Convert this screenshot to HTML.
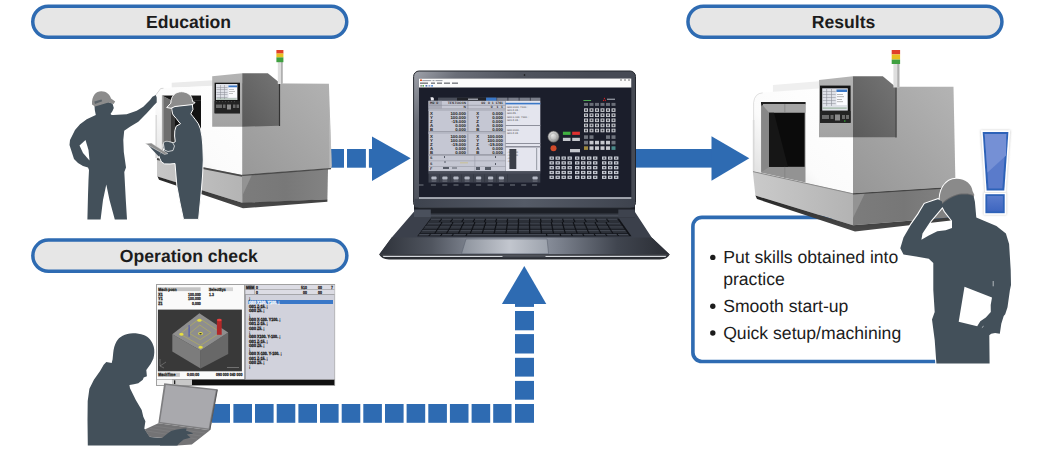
<!DOCTYPE html>
<html><head><meta charset="utf-8">
<style>
html,body{margin:0;padding:0;background:#fff;width:1050px;height:450px;overflow:hidden;}
svg{position:absolute;left:0;top:0;display:block;}
text{font-family:"Liberation Sans",sans-serif;white-space:pre;text-rendering:geometricPrecision;}
</style></head>
<body>
<svg width="1050" height="450" viewBox="0 0 1050 450">
<defs>
<linearGradient id="shad2" x1="0" y1="0" x2="0" y2="1"><stop offset="0" stop-color="#262626"/><stop offset="1" stop-color="#4a4a4a"/></linearGradient>
<linearGradient id="kbtop" x1="0" y1="0" x2="0" y2="1"><stop offset="0" stop-color="#1c1f26"/><stop offset="0.6" stop-color="#4a505b"/><stop offset="1" stop-color="#262a31"/></linearGradient>
<linearGradient id="lidg" gradientUnits="userSpaceOnUse" x1="414" y1="71" x2="520" y2="160"><stop offset="0" stop-color="#a0a3ab"/><stop offset="0.25" stop-color="#6a6e78"/><stop offset="0.6" stop-color="#50545e"/><stop offset="1" stop-color="#464a54"/></linearGradient>

<linearGradient id="m2front" x1="1" y1="0" x2="0" y2="1"><stop offset="0" stop-color="#ffffff"/><stop offset="0.6" stop-color="#fbfbfb"/><stop offset="1" stop-color="#d8d8d8"/></linearGradient>
<linearGradient id="m2side" x1="1" y1="0" x2="0" y2="1"><stop offset="0" stop-color="#b4b4b4"/><stop offset="1" stop-color="#969696"/></linearGradient>
<linearGradient id="m2basef" x1="0" y1="0" x2="1" y2="0"><stop offset="0" stop-color="#cacaca"/><stop offset="1" stop-color="#b3b3b3"/></linearGradient>
<linearGradient id="m2bases" x1="0" y1="0" x2="1" y2="0"><stop offset="0" stop-color="#7c7c7c"/><stop offset="0.5" stop-color="#777777"/><stop offset="1" stop-color="#838383"/></linearGradient>
<linearGradient id="excl" x1="0" y1="0" x2="1" y2="1"><stop offset="0" stop-color="#6d8fd6"/><stop offset="0.5" stop-color="#5b7fd0"/><stop offset="0.52" stop-color="#4a70c8"/><stop offset="1" stop-color="#3e66c0"/></linearGradient>
<linearGradient id="excl2" x1="0" y1="0" x2="0" y2="1"><stop offset="0" stop-color="#5a7ccc"/><stop offset="1" stop-color="#3e66c0"/></linearGradient>

<linearGradient id="lapfront" x1="0" y1="0" x2="1" y2="0"><stop offset="0" stop-color="#2e323a"/><stop offset="0.18" stop-color="#50555f"/><stop offset="0.35" stop-color="#8a909c"/><stop offset="0.5" stop-color="#9ca2ae"/><stop offset="0.62" stop-color="#7b818d"/><stop offset="0.82" stop-color="#40454f"/><stop offset="1" stop-color="#2a2d34"/></linearGradient>
<linearGradient id="laptp" x1="0" y1="0" x2="1" y2="0"><stop offset="0" stop-color="#8c929c"/><stop offset="0.55" stop-color="#c2c6ce"/><stop offset="1" stop-color="#9ca2ac"/></linearGradient>
<linearGradient id="lapbez" x1="0" y1="0" x2="1" y2="0"><stop offset="0" stop-color="#3e434e"/><stop offset="0.5" stop-color="#555b67"/><stop offset="1" stop-color="#3e434e"/></linearGradient>
<radialGradient id="dial" cx="0.4" cy="0.35" r="0.7"><stop offset="0" stop-color="#e8e8e8"/><stop offset="0.6" stop-color="#b8b8b8"/><stop offset="1" stop-color="#7a7a7a"/></radialGradient>

<linearGradient id="m1front" x1="1" y1="0" x2="0" y2="1"><stop offset="0" stop-color="#ffffff"/><stop offset="0.6" stop-color="#fbfbfb"/><stop offset="1" stop-color="#dcdcdc"/></linearGradient>
<linearGradient id="m1side" x1="1" y1="0" x2="0" y2="1"><stop offset="0" stop-color="#b2b2b2"/><stop offset="1" stop-color="#989898"/></linearGradient>
<linearGradient id="m1basef" x1="0" y1="0" x2="1" y2="0"><stop offset="0" stop-color="#c7c7c7"/><stop offset="1" stop-color="#b4b4b4"/></linearGradient>
<linearGradient id="m1bases" x1="0" y1="0" x2="1" y2="0"><stop offset="0" stop-color="#7c7c7c"/><stop offset="0.5" stop-color="#787878"/><stop offset="1" stop-color="#838383"/></linearGradient>
<linearGradient id="m1cpf" x1="0" y1="0" x2="0" y2="1"><stop offset="0" stop-color="#b4b4b4"/><stop offset="1" stop-color="#a2a2a2"/></linearGradient>
<linearGradient id="m1cps" x1="1" y1="0" x2="0" y2="1"><stop offset="0" stop-color="#747474"/><stop offset="1" stop-color="#5a5a5a"/></linearGradient>
</defs>
<!-- ===== PILLS ===== -->
<g fill="#e6e6e6" stroke="#2e6bb2" stroke-width="3.5">
<rect x="32.75" y="6.25" width="314" height="31" rx="15.5"/>
<rect x="687.95" y="6.25" width="314" height="31" rx="15.5"/>
<rect x="32.85" y="240.05" width="314" height="31.2" rx="15.6"/>
</g>
<g font-weight="bold" font-size="17.6" fill="#1c1c1c" text-anchor="middle">
<text x="188.6" y="28">Education</text>
<text x="843.6" y="28">Results</text>
<text x="188.8" y="262.1">Operation check</text>
</g>

<!-- ===== RESULTS BOX ===== -->
<rect x="692.9" y="217.4" width="285" height="144.1" rx="9" fill="#fff" stroke="#2e6bb2" stroke-width="3.6"/>
<g font-size="17.6" fill="#1c1c1c">
<text x="723.2" y="263.2">Put skills obtained into</text>
<text x="723.2" y="285.2">practice</text>
<text x="723.2" y="312.1">Smooth start-up</text>
<text x="723.2" y="339">Quick setup/machining</text>
</g>

<g fill="#1c1c1c"><circle cx="712.8" cy="257.4" r="2.7"/><circle cx="712.8" cy="306.2" r="2.7"/><circle cx="712.8" cy="333" r="2.7"/></g>
<!-- ===== ARROWS ===== -->
<g fill="#2e6bb2">
<!-- dashed arrow education -> laptop -->
<rect x="330" y="149" width="14" height="18.7"/>
<rect x="347" y="149" width="18.9" height="18.7"/>
<rect x="368.9" y="149" width="4" height="18.7"/>
<polygon points="372,136.4 410.7,158.3 372,180.9"/>
<!-- solid arrow laptop -> results -->
<rect x="630" y="149" width="82" height="18.6"/>
<polygon points="711.5,136.3 749.3,158.2 711.5,180.7"/>
<!-- up arrow -->
<polygon points="524.3,266 546.3,304 501.9,304"/>
<rect x="515" y="303.5" width="19" height="3.4"/>
<rect x="515" y="311" width="19" height="19.3"/>
<rect x="515" y="334.1" width="19" height="19.4"/>
<rect x="515" y="357.8" width="19" height="18.8"/>
<rect x="515" y="380.9" width="19" height="18.8"/>
<rect x="515" y="404" width="19" height="18.8"/>
<!-- horizontal dashes -->
<rect x="212" y="404" width="18" height="18.8"/>
<rect x="233.4" y="404" width="18.6" height="18.8"/>
<rect x="255" y="404" width="18.6" height="18.8"/>
<rect x="276.7" y="404" width="18.6" height="18.8"/>
<rect x="298.4" y="404" width="18.6" height="18.8"/>
<rect x="320" y="404" width="18.6" height="18.8"/>
<rect x="341.7" y="404" width="18.6" height="18.8"/>
<rect x="363.3" y="404" width="18.6" height="18.8"/>
<rect x="385" y="404" width="18.6" height="18.8"/>
<rect x="406.6" y="404" width="18.6" height="18.8"/>
<rect x="428.3" y="404" width="18.6" height="18.8"/>
<rect x="449.9" y="404" width="18.6" height="18.8"/>
<rect x="471.6" y="404" width="18.6" height="18.8"/>
<rect x="493.2" y="404" width="18.3" height="18.8"/>
</g>


<!-- ===== EDUCATION MACHINE ===== -->
<g id="m1">
<!-- roof band -->
<polygon points="171.7,82.8 213,80.2 213,86.3 171.7,87.6" fill="#ebebeb"/>
<!-- left front face -->
<polygon points="155.5,95 160.7,88.3 213,85.8 242.2,85.5 242.2,175 155.5,158" fill="url(#m1front)"/>
<polyline points="155.8,95 160.7,88.5 163.5,88.3" fill="none" stroke="#b0b0b0" stroke-width="0.5"/>
<polygon points="155.5,115 157,115 157,158.3 155.5,158" fill="#d4d4d4" opacity="0.8"/>
<!-- door -->
<polygon points="161.9,95.2 201,95.2 201,156 161.9,150" fill="#a4a4a4"/>
<polygon points="162.6,95.8 201,95.8 201,100.2 171,100.2" fill="#161616"/>
<polygon points="163.6,96.5 171,100.2 171,149.2 163.6,149.5" fill="#6e6e6e"/>
<polygon points="171,100.2 201,100.2 201,152 171,149.2" fill="#121212"/>
<polygon points="171,100.2 175,100.2 175,149.4 171,149.2" fill="#3a3a3a"/>
<!-- body side -->
<polygon points="242.2,83.3 328.9,83.7 331.7,166 331.2,168.4 242.2,174.9" fill="url(#m1side)"/>
<polygon points="329.3,110 331.2,150 331.7,166 331,168 329.5,168" fill="#c8c8c8" opacity="0.7"/>
<!-- base front -->
<polygon points="157,158.2 242.2,175 242.2,202.8 157,176.5" fill="url(#m1basef)"/>
<!-- base side -->
<polygon points="242.2,175 328,169 327.4,199.2 242.2,203.4" fill="url(#m1bases)"/>
<polygon points="242.2,175.5 252,174.8 242.2,196" fill="#939393"/>
<polyline points="157,159 242.2,175.8" fill="none" stroke="#4a4a4a" stroke-width="1.8"/><polyline points="242.2,175.4 331,168.6" fill="none" stroke="#4a4a4a" stroke-width="1.3"/>
<!-- shadow -->
<polygon points="157.5,176.6 242.2,202.8 327.4,199.2 327.4,201.8 243,208.3 159,179.8" fill="url(#shad2)"/>
<!-- control panel front -->
<polygon points="212.2,76.2 242.2,73.2 242.2,126.7 212.2,126.7" fill="url(#m1cpf)"/>
<!-- control panel side -->
<polygon points="242.2,73.2 267.8,73.2 279,82.2 279,125.8 242.2,126.7" fill="url(#m1cps)"/>
<line x1="279.5" y1="83" x2="279.5" y2="126" stroke="#333" stroke-width="1.2"/>
<!-- screen -->
<rect x="214.6" y="82.7" width="25.4" height="30.6" fill="#151515"/>
<rect x="216" y="84" width="21.4" height="16" fill="#dfe1e8"/>
<g fill="#8a8c96"><rect x="216.5" y="87" width="11" height="0.5"/><rect x="216.5" y="89.5" width="11" height="0.5"/><rect x="216.5" y="92" width="11" height="0.5"/><rect x="216.5" y="94.5" width="11" height="0.5"/><rect x="216.5" y="97" width="11" height="0.5"/><rect x="220" y="85" width="0.5" height="14"/><rect x="224" y="85" width="0.5" height="14"/></g>
<rect x="228.5" y="85.5" width="8.5" height="2" fill="#3a78c8"/>
<rect x="228.5" y="87.5" width="8.5" height="10" fill="#fbfbff"/>
<g fill="#888"><rect x="229" y="89" width="5" height="0.5"/><rect x="229" y="91" width="6" height="0.5"/><rect x="229" y="93" width="4" height="0.5"/></g>
<rect x="216.5" y="98.5" width="20" height="1" fill="#5a8a5a" opacity="0.5"/>
<rect x="214.6" y="101" width="25.4" height="12.3" fill="#232323"/><g fill="#555"><rect x="216" y="101.3" width="1" height="0.8"/><rect x="219" y="101.3" width="1" height="0.8"/><rect x="222" y="101.3" width="1" height="0.8"/><rect x="225" y="101.3" width="1" height="0.8"/><rect x="228" y="101.3" width="1" height="0.8"/><rect x="231" y="101.3" width="1" height="0.8"/><rect x="234" y="101.3" width="1" height="0.8"/></g>
<g fill="#6a6a6a"><rect x="216" y="104.5" width="6" height="3.5"/><rect x="223" y="104.5" width="2.5" height="3.5"/><rect x="227" y="104.5" width="4" height="5" fill="#8a8a8a"/><rect x="233" y="104.5" width="2.5" height="3.5"/><rect x="236.5" y="104.5" width="2.5" height="3.5"/></g>
<!-- signal tower -->
<rect x="277.8" y="62" width="4.9" height="22" fill="#dedede"/>
<rect x="281" y="62" width="1.7" height="22" fill="#b0b0b0"/>
<rect x="276.4" y="50" width="7" height="3.6" fill="#e0402a"/>
<rect x="276.4" y="53.5" width="7" height="4" fill="#e8c020"/>
<rect x="276.4" y="57.4" width="7" height="4.8" fill="#3fa040"/>
</g>
<!-- ===== EDUCATION PEOPLE ===== -->
<g fill="#43505a">
<path d="M95.8,115 L86.7,119.2 L80,124.2 L75,130 L70,140 L69.5,145 L74,159 L78,163 L83,166 L88,167.5 L89,170 L88.5,180 L88,195 L87.4,219.4 L100.6,219.4 L103,200 L106.3,184.4 L109.5,200 L114.8,219.4 L127,219.4 L125.8,200 L124.3,172 L126,167.4 L123.8,152 L123.3,140 L124.2,130.8 L130,126.7 L138.3,121.7 L146.7,113.3 L154.2,105 L156.7,102.5 L156.7,97.5 L155.8,95 L152.5,96.7 L150,100 L143.3,106.7 L136.7,110.8 L126.7,114.2 L113.3,115 L111.7,115 L110.5,114 L112.5,111 L113.8,108 L112.5,103.5 L108,102 L94.5,105.8 L94.8,110 Z"/>
<polygon points="85.5,140 79.5,145.5 83,153 89.5,160.5 88.5,150" fill="#fff"/>
<path d="M176.1,118.3 L178.8,121.9 L180.5,123.7 L176.1,126.3 L174.8,130.8 L174.6,136 L175.3,141.7 L173.5,142.6 L170,142.3 L166,142.8 L163.2,144 L162.8,147.5 L163.8,150.5 L161.5,152.2 L158.7,155.5 L159.8,158.5 L161.5,162 L164.6,163.9 L170,164 L175,163.5 L176.9,186.3 L180,203 L183.5,219.4 L198.6,219.4 L200,205 L201.4,190 L202.6,175 L203.3,160 L202.8,145 L201.9,136.1 L200.5,129 L198.3,123.7 L195.5,119.8 L193,116.6 L190.8,113.9 L193,109.4 L192.1,103.2 L171.7,106.8 L171.8,109.5 L172.6,113.9 L174,116 Z" stroke="#fff" stroke-width="1"/>
</g>
<g fill="#8c8c8c">
<path d="M92,104.6 C91.6,95.5 96,91.2 101.3,91.2 C106.5,91.2 110,94.5 111,98.5 L115.2,101.6 L113.6,104 L108.5,102.6 L95,106.4 Z"/>
<path d="M166.7,107.5 L170.8,103.2 C171,96 175,91.7 181.5,91.7 C188,91.7 192.5,96 192.5,101.5 L195,102.5 L193,104.5 L175,106.5 L171,108.3 Z" stroke="#fff" stroke-width="1"/>
</g>
<polygon points="94.3,101.6 101.5,99.6 102.2,101.2 95,103.9" fill="#5a6268"/>
<polygon points="148,145 151.3,146.6 161.5,152.4 158.7,156.6" fill="#43505a"/>
<polygon points="145.1,143.6 151.3,143.1 167.9,153.6 164.6,154.5" fill="#8e8e8e" stroke="#fff" stroke-width="0.4"/>
<path d="M163.5,144.2 C163,141.5 166,141 168.5,141.5 L172.5,142.5 L174.5,146 L173,150.5 L168,151.5 L164.5,150 Z" fill="#43505a" stroke="#fff" stroke-width="0.7"/>


<!-- ===== MAIN LAPTOP ===== -->
<g id="laptop">
<!-- base deck -->
<polygon points="413.7,212 635,212 651.7,237.5 669.7,254.5 379.2,254.5 391.7,237.5" fill="#3b404b"/>
<polygon points="391.7,237.5 651.7,237.5 669.7,254.5 379.2,254.5" fill="url(#lapfront)"/>
<!-- keyboard -->
<polygon points="430.5,218.4 619,218.4 631.5,236.2 417.2,236.2" fill="#111318"/>
<rect x="414" y="212.5" width="221" height="5.5" fill="url(#kbtop)"/>
<polygon points="430.9,218.9 440.7,218.9 438.7,221.9 428.7,221.9" fill="#2c3038"/>
<line x1="430.9" y1="219.20000000000002" x2="440.7" y2="219.20000000000002" stroke="#5d636e" stroke-width="0.6"/>
<polygon points="442.0,218.9 451.7,218.9 449.9,221.9 440.0,221.9" fill="#2c3038"/>
<line x1="442.0" y1="219.20000000000002" x2="451.7" y2="219.20000000000002" stroke="#5d636e" stroke-width="0.6"/>
<polygon points="453.0,218.9 462.7,218.9 461.2,221.9 451.2,221.9" fill="#2c3038"/>
<line x1="453.0" y1="219.20000000000002" x2="462.7" y2="219.20000000000002" stroke="#5d636e" stroke-width="0.6"/>
<polygon points="464.0,218.9 473.8,218.9 472.5,221.9 462.5,221.9" fill="#2c3038"/>
<line x1="464.0" y1="219.20000000000002" x2="473.8" y2="219.20000000000002" stroke="#5d636e" stroke-width="0.6"/>
<polygon points="475.1,218.9 484.8,218.9 483.8,221.9 473.8,221.9" fill="#2c3038"/>
<line x1="475.1" y1="219.20000000000002" x2="484.8" y2="219.20000000000002" stroke="#5d636e" stroke-width="0.6"/>
<polygon points="486.1,218.9 495.8,218.9 495.1,221.9 485.1,221.9" fill="#2c3038"/>
<line x1="486.1" y1="219.20000000000002" x2="495.8" y2="219.20000000000002" stroke="#5d636e" stroke-width="0.6"/>
<polygon points="497.1,218.9 506.9,218.9 506.4,221.9 496.4,221.9" fill="#2c3038"/>
<line x1="497.1" y1="219.20000000000002" x2="506.9" y2="219.20000000000002" stroke="#5d636e" stroke-width="0.6"/>
<polygon points="508.2,218.9 517.9,218.9 517.7,221.9 507.7,221.9" fill="#2c3038"/>
<line x1="508.2" y1="219.20000000000002" x2="517.9" y2="219.20000000000002" stroke="#5d636e" stroke-width="0.6"/>
<polygon points="519.2,218.9 529.0,218.9 529.0,221.9 519.0,221.9" fill="#2c3038"/>
<line x1="519.2" y1="219.20000000000002" x2="529.0" y2="219.20000000000002" stroke="#5d636e" stroke-width="0.6"/>
<polygon points="530.3,218.9 540.0,218.9 540.3,221.9 530.3,221.9" fill="#2c3038"/>
<line x1="530.3" y1="219.20000000000002" x2="540.0" y2="219.20000000000002" stroke="#5d636e" stroke-width="0.6"/>
<polygon points="541.3,218.9 551.0,218.9 551.6,221.9 541.6,221.9" fill="#2c3038"/>
<line x1="541.3" y1="219.20000000000002" x2="551.0" y2="219.20000000000002" stroke="#5d636e" stroke-width="0.6"/>
<polygon points="552.3,218.9 562.1,218.9 562.9,221.9 552.9,221.9" fill="#2c3038"/>
<line x1="552.3" y1="219.20000000000002" x2="562.1" y2="219.20000000000002" stroke="#5d636e" stroke-width="0.6"/>
<polygon points="563.4,218.9 573.1,218.9 574.2,221.9 564.2,221.9" fill="#2c3038"/>
<line x1="563.4" y1="219.20000000000002" x2="573.1" y2="219.20000000000002" stroke="#5d636e" stroke-width="0.6"/>
<polygon points="574.4,218.9 584.1,218.9 585.5,221.9 575.5,221.9" fill="#2c3038"/>
<line x1="574.4" y1="219.20000000000002" x2="584.1" y2="219.20000000000002" stroke="#5d636e" stroke-width="0.6"/>
<polygon points="585.4,218.9 595.2,218.9 596.8,221.9 586.8,221.9" fill="#2c3038"/>
<line x1="585.4" y1="219.20000000000002" x2="595.2" y2="219.20000000000002" stroke="#5d636e" stroke-width="0.6"/>
<polygon points="596.5,218.9 606.2,218.9 608.1,221.9 598.1,221.9" fill="#2c3038"/>
<line x1="596.5" y1="219.20000000000002" x2="606.2" y2="219.20000000000002" stroke="#5d636e" stroke-width="0.6"/>
<polygon points="607.5,218.9 617.3,218.9 619.4,221.9 609.4,221.9" fill="#2c3038"/>
<line x1="607.5" y1="219.20000000000002" x2="617.3" y2="219.20000000000002" stroke="#5d636e" stroke-width="0.6"/>
<polygon points="428.1,222.7 441.0,222.7 439.1,225.7 425.8,225.7" fill="#2c3038"/>
<line x1="428.1" y1="223.0" x2="441.0" y2="223.0" stroke="#5d636e" stroke-width="0.6"/>
<polygon points="442.3,222.7 452.0,222.7 450.3,225.7 440.4,225.7" fill="#2c3038"/>
<line x1="442.3" y1="223.0" x2="452.0" y2="223.0" stroke="#5d636e" stroke-width="0.6"/>
<polygon points="453.3,222.7 463.0,222.7 461.5,225.7 451.6,225.7" fill="#2c3038"/>
<line x1="453.3" y1="223.0" x2="463.0" y2="223.0" stroke="#5d636e" stroke-width="0.6"/>
<polygon points="464.3,222.7 474.0,222.7 472.8,225.7 462.8,225.7" fill="#2c3038"/>
<line x1="464.3" y1="223.0" x2="474.0" y2="223.0" stroke="#5d636e" stroke-width="0.6"/>
<polygon points="475.3,222.7 484.9,222.7 484.0,225.7 474.1,225.7" fill="#2c3038"/>
<line x1="475.3" y1="223.0" x2="484.9" y2="223.0" stroke="#5d636e" stroke-width="0.6"/>
<polygon points="486.2,222.7 495.9,222.7 495.2,225.7 485.3,225.7" fill="#2c3038"/>
<line x1="486.2" y1="223.0" x2="495.9" y2="223.0" stroke="#5d636e" stroke-width="0.6"/>
<polygon points="497.2,222.7 506.9,222.7 506.4,225.7 496.5,225.7" fill="#2c3038"/>
<line x1="497.2" y1="223.0" x2="506.9" y2="223.0" stroke="#5d636e" stroke-width="0.6"/>
<polygon points="508.2,222.7 517.9,222.7 517.7,225.7 507.7,225.7" fill="#2c3038"/>
<line x1="508.2" y1="223.0" x2="517.9" y2="223.0" stroke="#5d636e" stroke-width="0.6"/>
<polygon points="519.2,222.7 528.8,222.7 528.9,225.7 519.0,225.7" fill="#2c3038"/>
<line x1="519.2" y1="223.0" x2="528.8" y2="223.0" stroke="#5d636e" stroke-width="0.6"/>
<polygon points="530.1,222.7 539.8,222.7 540.1,225.7 530.2,225.7" fill="#2c3038"/>
<line x1="530.1" y1="223.0" x2="539.8" y2="223.0" stroke="#5d636e" stroke-width="0.6"/>
<polygon points="541.1,222.7 550.8,222.7 551.4,225.7 541.4,225.7" fill="#2c3038"/>
<line x1="541.1" y1="223.0" x2="550.8" y2="223.0" stroke="#5d636e" stroke-width="0.6"/>
<polygon points="552.1,222.7 561.8,222.7 562.6,225.7 552.7,225.7" fill="#2c3038"/>
<line x1="552.1" y1="223.0" x2="561.8" y2="223.0" stroke="#5d636e" stroke-width="0.6"/>
<polygon points="563.1,222.7 572.8,222.7 573.8,225.7 563.9,225.7" fill="#2c3038"/>
<line x1="563.1" y1="223.0" x2="572.8" y2="223.0" stroke="#5d636e" stroke-width="0.6"/>
<polygon points="574.1,222.7 583.7,222.7 585.0,225.7 575.1,225.7" fill="#2c3038"/>
<line x1="574.1" y1="223.0" x2="583.7" y2="223.0" stroke="#5d636e" stroke-width="0.6"/>
<polygon points="585.0,222.7 594.7,222.7 596.3,225.7 586.3,225.7" fill="#2c3038"/>
<line x1="585.0" y1="223.0" x2="594.7" y2="223.0" stroke="#5d636e" stroke-width="0.6"/>
<polygon points="596.0,222.7 605.7,222.7 607.5,225.7 597.6,225.7" fill="#2c3038"/>
<line x1="596.0" y1="223.0" x2="605.7" y2="223.0" stroke="#5d636e" stroke-width="0.6"/>
<polygon points="607.0,222.7 620.0,222.7 622.1,225.7 608.8,225.7" fill="#2c3038"/>
<line x1="607.0" y1="223.0" x2="620.0" y2="223.0" stroke="#5d636e" stroke-width="0.6"/>
<polygon points="425.2,226.5 438.6,226.5 436.6,229.5 422.9,229.5" fill="#2c3038"/>
<line x1="425.2" y1="226.8" x2="438.6" y2="226.8" stroke="#5d636e" stroke-width="0.6"/>
<polygon points="439.9,226.5 449.9,226.5 448.2,229.5 437.9,229.5" fill="#2c3038"/>
<line x1="439.9" y1="226.8" x2="449.9" y2="226.8" stroke="#5d636e" stroke-width="0.6"/>
<polygon points="451.2,226.5 461.1,226.5 459.7,229.5 449.5,229.5" fill="#2c3038"/>
<line x1="451.2" y1="226.8" x2="461.1" y2="226.8" stroke="#5d636e" stroke-width="0.6"/>
<polygon points="462.4,226.5 472.4,226.5 471.3,229.5 461.0,229.5" fill="#2c3038"/>
<line x1="462.4" y1="226.8" x2="472.4" y2="226.8" stroke="#5d636e" stroke-width="0.6"/>
<polygon points="473.7,226.5 483.7,226.5 482.8,229.5 472.6,229.5" fill="#2c3038"/>
<line x1="473.7" y1="226.8" x2="483.7" y2="226.8" stroke="#5d636e" stroke-width="0.6"/>
<polygon points="485.0,226.5 495.0,226.5 494.3,229.5 484.1,229.5" fill="#2c3038"/>
<line x1="485.0" y1="226.8" x2="495.0" y2="226.8" stroke="#5d636e" stroke-width="0.6"/>
<polygon points="496.3,226.5 506.3,226.5 505.9,229.5 495.6,229.5" fill="#2c3038"/>
<line x1="496.3" y1="226.8" x2="506.3" y2="226.8" stroke="#5d636e" stroke-width="0.6"/>
<polygon points="507.6,226.5 517.6,226.5 517.4,229.5 507.2,229.5" fill="#2c3038"/>
<line x1="507.6" y1="226.8" x2="517.6" y2="226.8" stroke="#5d636e" stroke-width="0.6"/>
<polygon points="518.9,226.5 528.9,226.5 529.0,229.5 518.7,229.5" fill="#2c3038"/>
<line x1="518.9" y1="226.8" x2="528.9" y2="226.8" stroke="#5d636e" stroke-width="0.6"/>
<polygon points="530.2,226.5 540.2,226.5 540.5,229.5 530.3,229.5" fill="#2c3038"/>
<line x1="530.2" y1="226.8" x2="540.2" y2="226.8" stroke="#5d636e" stroke-width="0.6"/>
<polygon points="541.5,226.5 551.5,226.5 552.1,229.5 541.8,229.5" fill="#2c3038"/>
<line x1="541.5" y1="226.8" x2="551.5" y2="226.8" stroke="#5d636e" stroke-width="0.6"/>
<polygon points="552.8,226.5 562.8,226.5 563.6,229.5 553.4,229.5" fill="#2c3038"/>
<line x1="552.8" y1="226.8" x2="562.8" y2="226.8" stroke="#5d636e" stroke-width="0.6"/>
<polygon points="564.1,226.5 574.1,226.5 575.1,229.5 564.9,229.5" fill="#2c3038"/>
<line x1="564.1" y1="226.8" x2="574.1" y2="226.8" stroke="#5d636e" stroke-width="0.6"/>
<polygon points="575.4,226.5 585.4,226.5 586.7,229.5 576.4,229.5" fill="#2c3038"/>
<line x1="575.4" y1="226.8" x2="585.4" y2="226.8" stroke="#5d636e" stroke-width="0.6"/>
<polygon points="586.7,226.5 596.7,226.5 598.2,229.5 588.0,229.5" fill="#2c3038"/>
<line x1="586.7" y1="226.8" x2="596.7" y2="226.8" stroke="#5d636e" stroke-width="0.6"/>
<polygon points="598.0,226.5 608.0,226.5 609.8,229.5 599.5,229.5" fill="#2c3038"/>
<line x1="598.0" y1="226.8" x2="608.0" y2="226.8" stroke="#5d636e" stroke-width="0.6"/>
<polygon points="609.3,226.5 622.7,226.5 624.8,229.5 611.1,229.5" fill="#2c3038"/>
<line x1="609.3" y1="226.8" x2="622.7" y2="226.8" stroke="#5d636e" stroke-width="0.6"/>
<polygon points="422.3,230.3 436.1,230.3 434.2,233.3 420.0,233.3" fill="#2c3038"/>
<line x1="422.3" y1="230.60000000000002" x2="436.1" y2="230.60000000000002" stroke="#5d636e" stroke-width="0.6"/>
<polygon points="437.4,230.3 447.7,230.3 446.0,233.3 435.5,233.3" fill="#2c3038"/>
<line x1="437.4" y1="230.60000000000002" x2="447.7" y2="230.60000000000002" stroke="#5d636e" stroke-width="0.6"/>
<polygon points="449.0,230.3 459.3,230.3 457.9,233.3 447.3,233.3" fill="#2c3038"/>
<line x1="449.0" y1="230.60000000000002" x2="459.3" y2="230.60000000000002" stroke="#5d636e" stroke-width="0.6"/>
<polygon points="460.6,230.3 470.9,230.3 469.7,233.3 459.2,233.3" fill="#2c3038"/>
<line x1="460.6" y1="230.60000000000002" x2="470.9" y2="230.60000000000002" stroke="#5d636e" stroke-width="0.6"/>
<polygon points="472.2,230.3 482.5,230.3 481.6,233.3 471.0,233.3" fill="#2c3038"/>
<line x1="472.2" y1="230.60000000000002" x2="482.5" y2="230.60000000000002" stroke="#5d636e" stroke-width="0.6"/>
<polygon points="483.8,230.3 494.2,230.3 493.5,233.3 482.9,233.3" fill="#2c3038"/>
<line x1="483.8" y1="230.60000000000002" x2="494.2" y2="230.60000000000002" stroke="#5d636e" stroke-width="0.6"/>
<polygon points="495.5,230.3 505.8,230.3 505.3,233.3 494.8,233.3" fill="#2c3038"/>
<line x1="495.5" y1="230.60000000000002" x2="505.8" y2="230.60000000000002" stroke="#5d636e" stroke-width="0.6"/>
<polygon points="507.1,230.3 517.4,230.3 517.2,233.3 506.6,233.3" fill="#2c3038"/>
<line x1="507.1" y1="230.60000000000002" x2="517.4" y2="230.60000000000002" stroke="#5d636e" stroke-width="0.6"/>
<polygon points="518.7,230.3 529.0,230.3 529.0,233.3 518.5,233.3" fill="#2c3038"/>
<line x1="518.7" y1="230.60000000000002" x2="529.0" y2="230.60000000000002" stroke="#5d636e" stroke-width="0.6"/>
<polygon points="530.3,230.3 540.6,230.3 540.9,233.3 530.3,233.3" fill="#2c3038"/>
<line x1="530.3" y1="230.60000000000002" x2="540.6" y2="230.60000000000002" stroke="#5d636e" stroke-width="0.6"/>
<polygon points="541.9,230.3 552.2,230.3 552.8,233.3 542.2,233.3" fill="#2c3038"/>
<line x1="541.9" y1="230.60000000000002" x2="552.2" y2="230.60000000000002" stroke="#5d636e" stroke-width="0.6"/>
<polygon points="553.5,230.3 563.8,230.3 564.6,233.3 554.1,233.3" fill="#2c3038"/>
<line x1="553.5" y1="230.60000000000002" x2="563.8" y2="230.60000000000002" stroke="#5d636e" stroke-width="0.6"/>
<polygon points="565.1,230.3 575.4,230.3 576.5,233.3 565.9,233.3" fill="#2c3038"/>
<line x1="565.1" y1="230.60000000000002" x2="575.4" y2="230.60000000000002" stroke="#5d636e" stroke-width="0.6"/>
<polygon points="576.7,230.3 587.0,230.3 588.3,233.3 577.8,233.3" fill="#2c3038"/>
<line x1="576.7" y1="230.60000000000002" x2="587.0" y2="230.60000000000002" stroke="#5d636e" stroke-width="0.6"/>
<polygon points="588.3,230.3 598.6,230.3 600.2,233.3 589.6,233.3" fill="#2c3038"/>
<line x1="588.3" y1="230.60000000000002" x2="598.6" y2="230.60000000000002" stroke="#5d636e" stroke-width="0.6"/>
<polygon points="599.9,230.3 610.3,230.3 612.1,233.3 601.5,233.3" fill="#2c3038"/>
<line x1="599.9" y1="230.60000000000002" x2="610.3" y2="230.60000000000002" stroke="#5d636e" stroke-width="0.6"/>
<polygon points="611.6,230.3 625.4,230.3 627.5,233.3 613.4,233.3" fill="#2c3038"/>
<line x1="611.6" y1="230.60000000000002" x2="625.4" y2="230.60000000000002" stroke="#5d636e" stroke-width="0.6"/>
<polygon points="419.4,234.1 429.5,234.1 428.3,235.9 418.1,235.9" fill="#2c3038"/>
<line x1="419.4" y1="234.4" x2="429.5" y2="234.4" stroke="#5d636e" stroke-width="0.6"/>
<polygon points="430.8,234.1 441.0,234.1 439.9,235.9 429.6,235.9" fill="#2c3038"/>
<line x1="430.8" y1="234.4" x2="441.0" y2="234.4" stroke="#5d636e" stroke-width="0.6"/>
<polygon points="442.3,234.1 452.4,234.1 451.4,235.9 441.2,235.9" fill="#2c3038"/>
<line x1="442.3" y1="234.4" x2="452.4" y2="234.4" stroke="#5d636e" stroke-width="0.6"/>
<polygon points="453.7,234.1 466.1,234.1 465.3,235.9 452.7,235.9" fill="#2c3038"/>
<line x1="453.7" y1="234.4" x2="466.1" y2="234.4" stroke="#5d636e" stroke-width="0.6"/>
<polygon points="467.4,234.1 545.9,234.1 546.2,235.9 466.6,235.9" fill="#2c3038"/>
<line x1="467.4" y1="234.4" x2="545.9" y2="234.4" stroke="#5d636e" stroke-width="0.6"/>
<polygon points="547.2,234.1 559.6,234.1 560.0,235.9 547.5,235.9" fill="#2c3038"/>
<line x1="547.2" y1="234.4" x2="559.6" y2="234.4" stroke="#5d636e" stroke-width="0.6"/>
<polygon points="560.9,234.1 571.0,234.1 571.6,235.9 561.3,235.9" fill="#2c3038"/>
<line x1="560.9" y1="234.4" x2="571.0" y2="234.4" stroke="#5d636e" stroke-width="0.6"/>
<polygon points="572.3,234.1 582.4,234.1 583.1,235.9 572.9,235.9" fill="#2c3038"/>
<line x1="572.3" y1="234.4" x2="582.4" y2="234.4" stroke="#5d636e" stroke-width="0.6"/>
<polygon points="583.7,234.1 593.8,234.1 594.7,235.9 584.4,235.9" fill="#2c3038"/>
<line x1="583.7" y1="234.4" x2="593.8" y2="234.4" stroke="#5d636e" stroke-width="0.6"/>
<polygon points="595.1,234.1 605.2,234.1 606.2,235.9 596.0,235.9" fill="#2c3038"/>
<line x1="595.1" y1="234.4" x2="605.2" y2="234.4" stroke="#5d636e" stroke-width="0.6"/>
<polygon points="606.5,234.1 616.6,234.1 617.8,235.9 607.5,235.9" fill="#2c3038"/>
<line x1="606.5" y1="234.4" x2="616.6" y2="234.4" stroke="#5d636e" stroke-width="0.6"/>
<polygon points="617.9,234.1 628.1,234.1 629.3,235.9 619.1,235.9" fill="#2c3038"/>
<line x1="617.9" y1="234.4" x2="628.1" y2="234.4" stroke="#5d636e" stroke-width="0.6"/>
<!-- touchpad -->
<polygon points="466,239 547.1,239 548.6,253.8 461.5,253.8" fill="url(#laptp)" stroke="#5d6370" stroke-width="0.6"/>
<!-- front silver edge -->
<path d="M379.2,254.3 L669.7,254.3 Q668,259.2 660,259.5 L389,259.5 Q381,259.2 379.2,254.3 Z" fill="#2b2e34"/>
<path d="M382.5,255.8 L666.5,255.8 L665.5,257 L383.5,257 Z" fill="#d6d9de"/>
<rect x="502.5" y="255.5" width="43" height="1.8" fill="#4a4e56"/>
<!-- hinge -->
<rect x="414" y="205" width="221" height="8" fill="#1c1f26"/>
<rect x="414" y="209.5" width="16.8" height="8" fill="#4a505c"/>
<rect x="618.3" y="209.5" width="16.6" height="8" fill="#3e434e"/>
<!-- lid -->
<rect x="413.6" y="71" width="221.9" height="137" rx="5.5" fill="url(#lidg)" stroke="#23262d" stroke-width="1"/>
<circle cx="524.5" cy="75" r="0.8" fill="#111"/>
<rect x="414.5" y="198.8" width="220" height="8.5" fill="url(#lapbez)"/>
<!-- screen -->
<rect x="419" y="78.5" width="212.3" height="119" fill="#1b1e2b"/>
<rect x="419" y="197.3" width="212.3" height="1.4" fill="#c8ccd4"/>
<rect x="419" y="78.5" width="212.3" height="9" fill="#fbfbfb"/>
<rect x="420" y="79.5" width="2" height="1.5" fill="#e05020"/>
<g fill="#8a9099"><rect x="422.3" y="80.2" width="9" height="0.9"/><rect x="432.5" y="80.2" width="2" height="0.9"/><rect x="435.5" y="80.2" width="7" height="0.9"/></g>
<g fill="#55595f"><rect x="420" y="82.6" width="8" height="1.1"/><rect x="431" y="82.6" width="4" height="1.1"/><rect x="437" y="82.6" width="5" height="1.1"/><rect x="444" y="82.6" width="6" height="1.1"/><rect x="452" y="82.6" width="6" height="1.1"/></g>
<rect x="420.5" y="85" width="1.2" height="1.6" fill="#6a6a6a"/><rect x="422.5" y="85" width="1.4" height="1.6" fill="#40a040"/><rect x="425.5" y="85" width="1.8" height="1.6" fill="#4a70b0"/><rect x="428.5" y="85" width="1.8" height="1.6" fill="#8aa0d0"/><rect x="431.2" y="85" width="1.8" height="1.6" fill="#5a90d8"/>
<g fill="#777"><rect x="620" y="79.5" width="2" height="1"/><rect x="624" y="79.5" width="2" height="1"/><rect x="628" y="79.5" width="2" height="1"/></g>
<!-- CNC display left -->
<rect x="438" y="97.6" width="102.3" height="3.3" fill="#4a4e5a"/>
<rect x="457" y="97.6" width="29" height="3.3" fill="#202228"/>
<rect x="468" y="98.6" width="10" height="1.2" fill="#b8bcc6"/>
<path d="M430.5,97.2 l2.5,0 l0.8,1 l0,2.2 l-2.8,0 z" fill="#e8e8ee"/>
<rect x="486.1" y="97.6" width="10.3" height="3.3" fill="#3a78c8"/>
<g fill="#7a7e8a"><rect x="497.2" y="97.8" width="10" height="2.9"/><rect x="508.5" y="97.8" width="10" height="2.9"/><rect x="519.8" y="97.8" width="10" height="2.9"/><rect x="531" y="97.8" width="9.3" height="2.9"/></g>
<rect x="428.5" y="100.8" width="77" height="70.7" fill="#c5c7d3"/>
<rect x="428.5" y="100.9" width="13.5" height="7.6" fill="#a9abb8"/>
<rect x="505.5" y="100.8" width="34.8" height="70.7" fill="#e4e5ee"/>
<rect x="505.5" y="100.8" width="34.8" height="1.6" fill="#3a78c8" transform="translate(0,2)"/>
<g fill="#8e909c">
<rect x="428.5" y="104.9" width="77" height="0.6"/>
<rect x="428.5" y="108.6" width="77" height="0.8"/>
<rect x="428.5" y="131.3" width="77" height="0.9"/>
<rect x="428.5" y="154.3" width="77" height="0.9"/>
<rect x="467.5" y="100.8" width="0.8" height="53.5"/>
<rect x="428.5" y="109.4" width="77" height="1.6" fill="#b4b6c2"/>
<rect x="428.5" y="132.2" width="77" height="1.6" fill="#b4b6c2"/>
<rect x="505.5" y="125" width="34.8" height="1"/>
<rect x="505.5" y="143" width="34.8" height="1"/>
<rect x="505.5" y="146" width="34.8" height="1.5"/>
</g>
<g font-family="Liberation Sans" font-weight="bold" font-size="4.3" fill="#1e1e24">
<text x="430" y="104.4" font-size="3.4">H0  0</text><text x="466" y="104.4" font-size="3.4" text-anchor="end">TESTOO1N</text><text x="503" y="104.4" font-size="3.4" text-anchor="end">00   0  1  1761</text>
<text x="466" y="107.8" font-size="3.4" text-anchor="end">N</text><text x="503" y="107.8" font-size="3.4" text-anchor="end">0    1   1</text>
<text x="430" y="115.2">X</text><text x="466" y="115.2" text-anchor="end">100.000</text><text x="476.2" y="115.2">X</text><text x="503" y="115.2" text-anchor="end">0.000</text>
<text x="430" y="119.1">Y</text><text x="466" y="119.1" text-anchor="end">100.000</text><text x="476.2" y="119.1">Y</text><text x="503" y="119.1" text-anchor="end">0.000</text>
<text x="430" y="123.0">Z</text><text x="466" y="123.0" text-anchor="end">-15.000</text><text x="476.2" y="123.0">Z</text><text x="503" y="123.0" text-anchor="end">0.000</text>
<text x="430" y="126.9">A</text><text x="466" y="126.9" text-anchor="end">0.000</text><text x="476.2" y="126.9">A</text><text x="503" y="126.9" text-anchor="end">0.000</text>
<text x="430" y="130.8">B</text><text x="466" y="130.8" text-anchor="end">0.000</text><text x="476.2" y="130.8">B</text><text x="503" y="130.8" text-anchor="end">0.000</text>
<text x="430" y="138.1">X</text><text x="466" y="138.1" text-anchor="end">100.000</text><text x="476.2" y="138.1">X</text><text x="503" y="138.1" text-anchor="end">100.000</text>
<text x="430" y="142.0">Y</text><text x="466" y="142.0" text-anchor="end">100.000</text><text x="476.2" y="142.0">Y</text><text x="503" y="142.0" text-anchor="end">100.000</text>
<text x="430" y="145.9">Z</text><text x="466" y="145.9" text-anchor="end">-15.000</text><text x="476.2" y="145.9">Z</text><text x="503" y="145.9" text-anchor="end">-15.000</text>
<text x="430" y="149.8">A</text><text x="466" y="149.8" text-anchor="end">0.000</text><text x="476.2" y="149.8">A</text><text x="503" y="149.8" text-anchor="end">0.000</text>
<text x="430" y="153.7">B</text><text x="466" y="153.7" text-anchor="end">0.000</text><text x="476.2" y="153.7">B</text><text x="503" y="153.7" text-anchor="end">0.000</text>
</g>
<g font-family="Liberation Mono" font-size="2.6" fill="#444">
<text x="507" y="108">G00 X100. Y100. ;</text><text x="507" y="111">G01 Z-15. ;</text><text x="507" y="114">G00 Z5. ;</text>
<text x="507" y="118">G00 X-100. Y100. ;</text><text x="507" y="121">G01 Z-15. ;</text>
<text x="507" y="131">G00 X100.</text><text x="507" y="134">G01 Z-15</text>
<text x="507" y="153">- 100.000</text><text x="507" y="156">- 100.000</text><text x="507" y="159">- 0.000</text><text x="507" y="162">- 0.000</text>
</g>
<g fill="#9a9ca8"><rect x="428.5" y="155.1" width="77" height="0.6"/><rect x="428.5" y="160.6" width="77" height="0.6"/><rect x="428.5" y="166" width="77" height="0.6"/><rect x="474.6" y="155" width="0.6" height="16.5"/></g>
<g font-family="Liberation Sans" font-weight="bold" font-size="3.6" fill="#2a2a30"><text x="430" y="158.8">S</text><text x="430" y="164.6">S</text><text x="430" y="170">F</text></g>
<g fill="#555a66"><rect x="444" y="156" width="1" height="2"/><rect x="444" y="161.5" width="2" height="1"/><rect x="443" y="167" width="6" height="2"/><rect x="452" y="167.5" width="5" height="1"/><rect x="460" y="162" width="8" height="1.5" fill="#c8c2a8"/><rect x="476" y="167" width="4" height="3"/><rect x="485" y="167" width="6" height="3"/><rect x="495" y="156" width="1" height="2"/><rect x="495" y="163" width="1" height="2"/></g>
<g fill="#3a3e48"><rect x="509.4" y="149" width="6.9" height="20"/></g>
<rect x="536" y="148" width="1.2" height="22" fill="#a0a4ae"/>
<!-- bottom toolbar -->
<rect x="428.5" y="171.5" width="111.8" height="11.1" fill="#3e424e"/>
<rect x="428.5" y="171.5" width="111.8" height="2.2" fill="#4a4e5a"/>
<rect x="431.4" y="176.6" width="5.2" height="3" rx="0.8" fill="#b4b8c4"/><rect x="431.6" y="180.6" width="4.8" height="0.9" fill="#7a7e8a"/>
<rect x="442.29999999999995" y="176.6" width="5.2" height="3" rx="0.8" fill="#b4b8c4"/><rect x="442.5" y="180.6" width="4.8" height="0.9" fill="#7a7e8a"/>
<rect x="453.4" y="176.6" width="5.2" height="3" rx="0.8" fill="#b4b8c4"/><rect x="453.6" y="180.6" width="4.8" height="0.9" fill="#7a7e8a"/>
<rect x="464.5" y="176.6" width="5.2" height="3" rx="0.8" fill="#b4b8c4"/><rect x="464.70000000000005" y="180.6" width="4.8" height="0.9" fill="#7a7e8a"/>
<rect x="476.0" y="176.6" width="5.2" height="3" rx="0.8" fill="#b4b8c4"/><rect x="476.20000000000005" y="180.6" width="4.8" height="0.9" fill="#7a7e8a"/>
<rect x="488.0" y="176.6" width="5.2" height="3" rx="0.8" fill="#b4b8c4"/><rect x="488.20000000000005" y="180.6" width="4.8" height="0.9" fill="#7a7e8a"/>
<rect x="498.79999999999995" y="176.6" width="5.2" height="3" rx="0.8" fill="#b4b8c4"/><rect x="499.0" y="180.6" width="4.8" height="0.9" fill="#7a7e8a"/>
<rect x="532.5" y="176.6" width="5.2" height="3" rx="0.8" fill="#b4b8c4"/><rect x="532.7" y="180.6" width="4.8" height="0.9" fill="#7a7e8a"/>
<rect x="439.5" y="174.5" width="0.5" height="7.5" fill="#2e323c"/>
<rect x="450.5" y="174.5" width="0.5" height="7.5" fill="#2e323c"/>
<rect x="461.5" y="174.5" width="0.5" height="7.5" fill="#2e323c"/>
<rect x="473" y="174.5" width="0.5" height="7.5" fill="#2e323c"/>
<rect x="484.5" y="174.5" width="0.5" height="7.5" fill="#2e323c"/>
<rect x="496" y="174.5" width="0.5" height="7.5" fill="#2e323c"/>
<rect x="507.5" y="174.5" width="0.5" height="7.5" fill="#2e323c"/>
<rect x="418.5" y="184.3" width="5" height="1.4" fill="#5a5e6a"/>
<rect x="430.9" y="184.3" width="5" height="1.4" fill="#5a5e6a"/>
<rect x="442.3" y="184.3" width="5" height="1.4" fill="#5a5e6a"/>
<rect x="453.5" y="184.3" width="5" height="1.4" fill="#5a5e6a"/>
<rect x="464.5" y="184.3" width="5" height="1.4" fill="#5a5e6a"/>
<rect x="476.1" y="184.3" width="5" height="1.4" fill="#5a5e6a"/>
<rect x="487.5" y="184.3" width="5" height="1.4" fill="#5a5e6a"/>
<rect x="498.9" y="184.3" width="5" height="1.4" fill="#5a5e6a"/>
<rect x="510.0" y="184.3" width="5" height="1.4" fill="#5a5e6a"/>
<rect x="521.2" y="184.3" width="5" height="1.4" fill="#5a5e6a"/>
<rect x="532.1" y="184.3" width="5" height="1.4" fill="#5a5e6a"/>
<!-- keypad right -->
<rect x="583.4" y="100" width="7.7" height="0.8" fill="#60d060"/>
<path d="M604.4,97.4 l0.7,1 l-0.7,1 l-0.7,-1z M603.5,99.5 l0.7,0.9 l-0.7,0.9 l-0.7,-0.9z M605.3,99.5 l0.7,0.9 l-0.7,0.9 l-0.7,-0.9z" fill="#e02020"/>
<rect x="607" y="98.6" width="8" height="1.4" fill="#8a8e98"/>
<g fill="#6a6e78"><rect x="584" y="102.9" width="4" height="3"/><rect x="589.5" y="102.9" width="4" height="3"/><rect x="595" y="102.9" width="4" height="3"/><rect x="600.5" y="102.9" width="4" height="3"/><rect x="606" y="102.9" width="4" height="3"/><rect x="611.5" y="102.9" width="4" height="3"/></g>
<g id="kp1">
<rect x="584.0" y="108.3" width="4" height="3.6" fill="#c6c8ce"/><rect x="585.2" y="109.2" width="1.6" height="1.8" fill="#3a3c44"/>
<rect x="589.5" y="108.3" width="4" height="3.6" fill="#c6c8ce"/><rect x="590.7" y="109.2" width="1.6" height="1.8" fill="#3a3c44"/>
<rect x="595.0" y="108.3" width="4" height="3.6" fill="#c6c8ce"/><rect x="596.2" y="109.2" width="1.6" height="1.8" fill="#3a3c44"/>
<rect x="600.5" y="108.3" width="4" height="3.6" fill="#c6c8ce"/><rect x="601.7" y="109.2" width="1.6" height="1.8" fill="#3a3c44"/>
<rect x="606.0" y="108.3" width="4" height="3.6" fill="#c6c8ce"/><rect x="607.2" y="109.2" width="1.6" height="1.8" fill="#3a3c44"/>
<rect x="611.5" y="108.3" width="4" height="3.6" fill="#c6c8ce"/><rect x="612.7" y="109.2" width="1.6" height="1.8" fill="#3a3c44"/>
<rect x="584.0" y="113.4" width="4" height="3.6" fill="#c6c8ce"/><rect x="585.2" y="114.30000000000001" width="1.6" height="1.8" fill="#3a3c44"/>
<rect x="589.5" y="113.4" width="4" height="3.6" fill="#c6c8ce"/><rect x="590.7" y="114.30000000000001" width="1.6" height="1.8" fill="#3a3c44"/>
<rect x="595.0" y="113.4" width="4" height="3.6" fill="#c6c8ce"/><rect x="596.2" y="114.30000000000001" width="1.6" height="1.8" fill="#3a3c44"/>
<rect x="600.5" y="113.4" width="4" height="3.6" fill="#c6c8ce"/><rect x="601.7" y="114.30000000000001" width="1.6" height="1.8" fill="#3a3c44"/>
<rect x="606.0" y="113.4" width="4" height="3.6" fill="#c6c8ce"/><rect x="607.2" y="114.30000000000001" width="1.6" height="1.8" fill="#3a3c44"/>
<rect x="611.5" y="113.4" width="4" height="3.6" fill="#c6c8ce"/><rect x="612.7" y="114.30000000000001" width="1.6" height="1.8" fill="#3a3c44"/>
<rect x="584.0" y="118.5" width="4" height="3.6" fill="#c6c8ce"/><rect x="585.2" y="119.4" width="1.6" height="1.8" fill="#3a3c44"/>
<rect x="589.5" y="118.5" width="4" height="3.6" fill="#c6c8ce"/><rect x="590.7" y="119.4" width="1.6" height="1.8" fill="#3a3c44"/>
<rect x="595.0" y="118.5" width="4" height="3.6" fill="#c6c8ce"/><rect x="596.2" y="119.4" width="1.6" height="1.8" fill="#3a3c44"/>
<rect x="600.5" y="118.5" width="4" height="3.6" fill="#c6c8ce"/><rect x="601.7" y="119.4" width="1.6" height="1.8" fill="#3a3c44"/>
<rect x="606.0" y="118.5" width="4" height="3.6" fill="#c6c8ce"/><rect x="607.2" y="119.4" width="1.6" height="1.8" fill="#3a3c44"/>
<rect x="611.5" y="118.5" width="4" height="3.6" fill="#c6c8ce"/><rect x="612.7" y="119.4" width="1.6" height="1.8" fill="#3a3c44"/>
<rect x="584.0" y="123.6" width="4" height="3.6" fill="#c6c8ce"/><rect x="585.2" y="124.5" width="1.6" height="1.8" fill="#3a3c44"/>
<rect x="589.5" y="123.6" width="4" height="3.6" fill="#c6c8ce"/><rect x="590.7" y="124.5" width="1.6" height="1.8" fill="#3a3c44"/>
<rect x="595.0" y="123.6" width="4" height="3.6" fill="#c6c8ce"/><rect x="596.2" y="124.5" width="1.6" height="1.8" fill="#3a3c44"/>
<rect x="600.5" y="123.6" width="4" height="3.6" fill="#c6c8ce"/><rect x="601.7" y="124.5" width="1.6" height="1.8" fill="#3a3c44"/>
<rect x="606.0" y="123.6" width="4" height="3.6" fill="#c6c8ce"/><rect x="607.2" y="124.5" width="1.6" height="1.8" fill="#3a3c44"/>
<rect x="611.5" y="123.6" width="4" height="3.6" fill="#c6c8ce"/><rect x="612.7" y="124.5" width="1.6" height="1.8" fill="#3a3c44"/>
<rect x="584.0" y="128.7" width="4" height="3.6" fill="#c6c8ce"/><rect x="585.2" y="129.6" width="1.6" height="1.8" fill="#3a3c44"/>
<rect x="589.5" y="128.7" width="4" height="3.6" fill="#c6c8ce"/><rect x="590.7" y="129.6" width="1.6" height="1.8" fill="#3a3c44"/>
<rect x="595.0" y="128.7" width="4" height="3.6" fill="#c6c8ce"/><rect x="596.2" y="129.6" width="1.6" height="1.8" fill="#3a3c44"/>
<rect x="600.5" y="128.7" width="4" height="3.6" fill="#c6c8ce"/><rect x="601.7" y="129.6" width="1.6" height="1.8" fill="#3a3c44"/>
<rect x="606.0" y="128.7" width="4" height="3.6" fill="#c6c8ce"/><rect x="607.2" y="129.6" width="1.6" height="1.8" fill="#3a3c44"/>
<rect x="611.5" y="128.7" width="4" height="3.6" fill="#c6c8ce"/><rect x="612.7" y="129.6" width="1.6" height="1.8" fill="#3a3c44"/>
</g>
<g fill="#c6c8ce">
<rect x="584" y="135.3" width="4" height="3.6" fill="#70747e"/><rect x="589.5" y="135.3" width="4" height="3.6" fill="#70747e"/><rect x="606" y="135.3" width="4" height="3.6" fill="#70747e"/><rect x="611.5" y="135.3" width="4" height="3.6" fill="#70747e"/>
<rect x="584" y="140.8" width="4" height="3.6" fill="#70747e"/><rect x="589.5" y="140.8" width="4" height="3.6"/><rect x="595" y="140.8" width="4" height="3.6"/><rect x="600.5" y="140.8" width="4" height="3.6"/><rect x="606" y="140.8" width="4" height="3.6"/><rect x="611.5" y="140.8" width="4" height="3.6" fill="#70747e"/>
<rect x="584" y="146.3" width="4" height="3.6" fill="#a08a40"/><rect x="589.5" y="146.3" width="4" height="3.6"/><rect x="595" y="146.3" width="4" height="3.6"/><rect x="600.5" y="146.3" width="4" height="3.6"/><rect x="606" y="146.3" width="4" height="3.6"/><rect x="611.5" y="146.3" width="4" height="3.6" fill="#4a8a8a"/>
</g>
<circle cx="553.5" cy="136.7" r="5.6" fill="url(#dial)" stroke="#555" stroke-width="0.5"/><circle cx="553.5" cy="136.7" r="3.4" fill="none" stroke="#9a9a9a" stroke-width="0.4"/>
<circle cx="553.5" cy="148.3" r="3" fill="#d04a2a"/>
<rect x="562.9" y="131.7" width="7.6" height="3.2" fill="#40b040"/>
<rect x="572.2" y="131.7" width="7.7" height="3.2" fill="#e03030"/>
<rect x="562.9" y="137.8" width="7.6" height="3.2" fill="#c4c6cc"/>
<rect x="572.2" y="137.8" width="7.7" height="3.2" fill="#c4c6cc"/>
<rect x="570" y="149" width="10" height="3.3" fill="#c4c6cc"/>
<g>
<rect x="549.5" y="156.5" width="4.4" height="3.2" fill="#c9cdd6"/><rect x="550.8" y="157.4" width="1.8" height="1.4" fill="#4a4e58"/>
<rect x="555.5" y="156.5" width="4.4" height="3.2" fill="#c9cdd6"/><rect x="556.8" y="157.4" width="1.8" height="1.4" fill="#4a4e58"/>
<rect x="561.5" y="156.5" width="4.4" height="3.2" fill="#c9cdd6"/><rect x="562.8" y="157.4" width="1.8" height="1.4" fill="#4a4e58"/>
<rect x="567.5" y="156.5" width="4.4" height="3.2" fill="#c9cdd6"/><rect x="568.8" y="157.4" width="1.8" height="1.4" fill="#4a4e58"/>
<rect x="575.0" y="156.5" width="4.4" height="3.2" fill="#c9cdd6"/><rect x="576.3" y="157.4" width="1.8" height="1.4" fill="#4a4e58"/>
<rect x="581.0" y="156.5" width="4.4" height="3.2" fill="#c9cdd6"/><rect x="582.3" y="157.4" width="1.8" height="1.4" fill="#4a4e58"/>
<rect x="587.0" y="156.5" width="4.4" height="3.2" fill="#c9cdd6"/><rect x="588.3" y="157.4" width="1.8" height="1.4" fill="#4a4e58"/>
<rect x="593.0" y="156.5" width="4.4" height="3.2" fill="#c9cdd6"/><rect x="594.3" y="157.4" width="1.8" height="1.4" fill="#4a4e58"/>
<rect x="602.0" y="156.5" width="4.4" height="3.2" fill="#c9cdd6"/><rect x="603.3" y="157.4" width="1.8" height="1.4" fill="#4a4e58"/>
<rect x="608.0" y="156.5" width="4.4" height="3.2" fill="#c9cdd6"/><rect x="609.3" y="157.4" width="1.8" height="1.4" fill="#4a4e58"/>
<rect x="614.0" y="156.5" width="4.4" height="3.2" fill="#c9cdd6"/><rect x="615.3" y="157.4" width="1.8" height="1.4" fill="#4a4e58"/>
<rect x="549.5" y="161.3" width="4.4" height="3.2" fill="#c9cdd6"/><rect x="550.8" y="162.20000000000002" width="1.8" height="1.4" fill="#4a4e58"/>
<rect x="555.5" y="161.3" width="4.4" height="3.2" fill="#c9cdd6"/><rect x="556.8" y="162.20000000000002" width="1.8" height="1.4" fill="#4a4e58"/>
<rect x="561.5" y="161.3" width="4.4" height="3.2" fill="#c9cdd6"/><rect x="562.8" y="162.20000000000002" width="1.8" height="1.4" fill="#4a4e58"/>
<rect x="567.5" y="161.3" width="4.4" height="3.2" fill="#c9cdd6"/><rect x="568.8" y="162.20000000000002" width="1.8" height="1.4" fill="#4a4e58"/>
<rect x="575.0" y="161.3" width="4.4" height="3.2" fill="#c9cdd6"/><rect x="576.3" y="162.20000000000002" width="1.8" height="1.4" fill="#4a4e58"/>
<rect x="581.0" y="161.3" width="4.4" height="3.2" fill="#c9cdd6"/><rect x="582.3" y="162.20000000000002" width="1.8" height="1.4" fill="#4a4e58"/>
<rect x="587.0" y="161.3" width="4.4" height="3.2" fill="#c9cdd6"/><rect x="588.3" y="162.20000000000002" width="1.8" height="1.4" fill="#4a4e58"/>
<rect x="593.0" y="161.3" width="4.4" height="3.2" fill="#c9cdd6"/><rect x="594.3" y="162.20000000000002" width="1.8" height="1.4" fill="#4a4e58"/>
<rect x="602.0" y="161.3" width="4.4" height="3.2" fill="#c9cdd6"/><rect x="603.3" y="162.20000000000002" width="1.8" height="1.4" fill="#4a4e58"/>
<rect x="608.0" y="161.3" width="4.4" height="3.2" fill="#c9cdd6"/><rect x="609.3" y="162.20000000000002" width="1.8" height="1.4" fill="#4a4e58"/>
<rect x="614.0" y="161.3" width="4.4" height="3.2" fill="#c9cdd6"/><rect x="615.3" y="162.20000000000002" width="1.8" height="1.4" fill="#4a4e58"/>
<rect x="549.5" y="166.1" width="4.4" height="3.2" fill="#c9cdd6"/><rect x="550.8" y="167.0" width="1.8" height="1.4" fill="#4a4e58"/>
<rect x="555.5" y="166.1" width="4.4" height="3.2" fill="#c9cdd6"/><rect x="556.8" y="167.0" width="1.8" height="1.4" fill="#4a4e58"/>
<rect x="561.5" y="166.1" width="4.4" height="3.2" fill="#c9cdd6"/><rect x="562.8" y="167.0" width="1.8" height="1.4" fill="#4a4e58"/>
<rect x="567.5" y="166.1" width="4.4" height="3.2" fill="#c9cdd6"/><rect x="568.8" y="167.0" width="1.8" height="1.4" fill="#4a4e58"/>
<rect x="575.0" y="166.1" width="4.4" height="3.2" fill="#c9cdd6"/><rect x="576.3" y="167.0" width="1.8" height="1.4" fill="#4a4e58"/>
<rect x="581.0" y="166.1" width="4.4" height="3.2" fill="#c9cdd6"/><rect x="582.3" y="167.0" width="1.8" height="1.4" fill="#4a4e58"/>
<rect x="587.0" y="166.1" width="4.4" height="3.2" fill="#c9cdd6"/><rect x="588.3" y="167.0" width="1.8" height="1.4" fill="#4a4e58"/>
<rect x="593.0" y="166.1" width="4.4" height="3.2" fill="#c9cdd6"/><rect x="594.3" y="167.0" width="1.8" height="1.4" fill="#4a4e58"/>
<rect x="602.0" y="166.1" width="4.4" height="3.2" fill="#c9cdd6"/><rect x="603.3" y="167.0" width="1.8" height="1.4" fill="#4a4e58"/>
<rect x="608.0" y="166.1" width="4.4" height="3.2" fill="#c9cdd6"/><rect x="609.3" y="167.0" width="1.8" height="1.4" fill="#4a4e58"/>
<rect x="614.0" y="166.1" width="4.4" height="3.2" fill="#c9cdd6"/><rect x="615.3" y="167.0" width="1.8" height="1.4" fill="#4a4e58"/>
<rect x="549.5" y="170.9" width="4.4" height="3.2" fill="#c9cdd6"/><rect x="550.8" y="171.8" width="1.8" height="1.4" fill="#4a4e58"/>
<rect x="555.5" y="170.9" width="4.4" height="3.2" fill="#c9cdd6"/><rect x="556.8" y="171.8" width="1.8" height="1.4" fill="#4a4e58"/>
<rect x="561.5" y="170.9" width="4.4" height="3.2" fill="#c9cdd6"/><rect x="562.8" y="171.8" width="1.8" height="1.4" fill="#4a4e58"/>
<rect x="567.5" y="170.9" width="4.4" height="3.2" fill="#c9cdd6"/><rect x="568.8" y="171.8" width="1.8" height="1.4" fill="#4a4e58"/>
<rect x="575.0" y="170.9" width="4.4" height="3.2" fill="#c9cdd6"/><rect x="576.3" y="171.8" width="1.8" height="1.4" fill="#4a4e58"/>
<rect x="581.0" y="170.9" width="4.4" height="3.2" fill="#c9cdd6"/><rect x="582.3" y="171.8" width="1.8" height="1.4" fill="#4a4e58"/>
<rect x="587.0" y="170.9" width="4.4" height="3.2" fill="#c9cdd6"/><rect x="588.3" y="171.8" width="1.8" height="1.4" fill="#4a4e58"/>
<rect x="593.0" y="170.9" width="4.4" height="3.2" fill="#c9cdd6"/><rect x="594.3" y="171.8" width="1.8" height="1.4" fill="#4a4e58"/>
<rect x="602.0" y="170.9" width="4.4" height="3.2" fill="#c9cdd6"/><rect x="603.3" y="171.8" width="1.8" height="1.4" fill="#4a4e58"/>
<rect x="608.0" y="170.9" width="4.4" height="3.2" fill="#c9cdd6"/><rect x="609.3" y="171.8" width="1.8" height="1.4" fill="#4a4e58"/>
<rect x="614.0" y="170.9" width="4.4" height="3.2" fill="#c9cdd6"/><rect x="615.3" y="171.8" width="1.8" height="1.4" fill="#4a4e58"/>
<rect x="549.5" y="175.7" width="4.4" height="3.2" fill="#c9cdd6"/><rect x="550.8" y="176.6" width="1.8" height="1.4" fill="#4a4e58"/>
<rect x="555.5" y="175.7" width="4.4" height="3.2" fill="#c9cdd6"/><rect x="556.8" y="176.6" width="1.8" height="1.4" fill="#4a4e58"/>
<rect x="561.5" y="175.7" width="4.4" height="3.2" fill="#c9cdd6"/><rect x="562.8" y="176.6" width="1.8" height="1.4" fill="#4a4e58"/>
<rect x="567.5" y="175.7" width="4.4" height="3.2" fill="#c9cdd6"/><rect x="568.8" y="176.6" width="1.8" height="1.4" fill="#4a4e58"/>
<rect x="575.0" y="175.7" width="4.4" height="3.2" fill="#c9cdd6"/><rect x="576.3" y="176.6" width="1.8" height="1.4" fill="#4a4e58"/>
<rect x="581.0" y="175.7" width="4.4" height="3.2" fill="#c9cdd6"/><rect x="582.3" y="176.6" width="1.8" height="1.4" fill="#4a4e58"/>
<rect x="587.0" y="175.7" width="4.4" height="3.2" fill="#c9cdd6"/><rect x="588.3" y="176.6" width="1.8" height="1.4" fill="#4a4e58"/>
<rect x="593.0" y="175.7" width="4.4" height="3.2" fill="#c9cdd6"/><rect x="594.3" y="176.6" width="1.8" height="1.4" fill="#4a4e58"/>
<rect x="602.0" y="175.7" width="4.4" height="3.2" fill="#c9cdd6"/><rect x="603.3" y="176.6" width="1.8" height="1.4" fill="#4a4e58"/>
<rect x="608.0" y="175.7" width="4.4" height="3.2" fill="#c9cdd6"/><rect x="609.3" y="176.6" width="1.8" height="1.4" fill="#4a4e58"/>
<rect x="614.0" y="175.7" width="4.4" height="3.2" fill="#c9cdd6"/><rect x="615.3" y="176.6" width="1.8" height="1.4" fill="#4a4e58"/>
</g>
</g>


<!-- ===== RESULTS MACHINE ===== -->
<g id="m2">
<polygon points="772.9,84.9 819,81.2 819,91.2 772.9,92.4" fill="#efefef"/>
<path d="M753.3,171 L753.3,102.7 Q754.2,92.9 762.7,92.6 L819,88.5 L853,88 L853,193.3 Z" fill="url(#m2front)"/>
<path d="M753.6,171 L753.6,102.7 Q754.5,93.2 762.7,92.9" fill="none" stroke="#c4c4c4" stroke-width="0.5"/>
<polygon points="752.8,120 754.5,120 754.5,171.3 752.8,171" fill="#d8d8d8" opacity="0.8"/>
<!-- door -->
<polygon points="761,102 805.5,102 805.5,182.4 761,172.6" fill="#939393"/>
<rect x="761" y="102" width="44.5" height="2.3" fill="#1e1e1e"/>
<polygon points="761,102 765,104.3 769,112.6 766.5,112.6 761,105" fill="#1e1e1e"/>
<rect x="763" y="104" width="42.5" height="8.6" fill="#a5a5a5"/>
<polygon points="761.6,104 769,112.6 769,167 761.6,172" fill="#878787"/>
<rect x="769" y="112.8" width="35.6" height="54" fill="#0b0b0b"/>
<polygon points="769,112.8 774,112.8 788,166.8 769,166.8" fill="#161616"/>
<line x1="784.8" y1="104" x2="784.8" y2="112.6" stroke="#7a7a7a" stroke-width="0.6"/>
<line x1="784.8" y1="166.8" x2="784.8" y2="178.5" stroke="#7a7a7a" stroke-width="0.6"/>
<!-- body side -->
<polygon points="853,86.7 953.5,86.7 955.5,186.8 853,193.3" fill="url(#m2side)"/>
<!-- base front -->
<polygon points="752.8,171.2 853,193.5 853,225.3 755.4,195.5" fill="url(#m2basef)"/>
<polygon points="853,193.5 954.7,187 953,217.3 853,225.3" fill="url(#m2bases)"/>
<polygon points="853,193.8 865,193 853,218" fill="#939393"/>
<polyline points="753,171.6 853,193.8" fill="none" stroke="#8a8a8a" stroke-width="1"/><polyline points="853,193.8 955,187.3" fill="none" stroke="#444" stroke-width="1.3"/>
<polygon points="755.4,195.5 853,225.3 953,217.3 953,220.3 855,231.5 757,199" fill="url(#shad2)"/>
<!-- control panel -->
<polygon points="819,80 852.8,76.2 852.8,137.3 819,137.3" fill="url(#m1cpf)"/>
<polygon points="852.8,76.2 882.8,76.2 895.5,86.7 895.5,137.3 852.8,137.3" fill="url(#m1cps)"/>
<line x1="896" y1="87" x2="896" y2="137.5" stroke="#333" stroke-width="1.2"/>
<rect x="820" y="85.6" width="30.6" height="37.2" fill="#151515"/>
<rect x="822.2" y="88.3" width="25.6" height="22.3" fill="#dfe1e8"/>
<g fill="#8a8c96"><rect x="822.7" y="91.5" width="13" height="0.5"/><rect x="822.7" y="94.5" width="13" height="0.5"/><rect x="822.7" y="97.5" width="13" height="0.5"/><rect x="822.7" y="100.5" width="13" height="0.5"/><rect x="822.7" y="103.5" width="13" height="0.5"/><rect x="826.5" y="89" width="0.6" height="17"/><rect x="831" y="89" width="0.6" height="17"/></g>
<rect x="836.5" y="89.5" width="10.5" height="2.5" fill="#3a78c8"/>
<rect x="836.5" y="92" width="10.5" height="13" fill="#fbfbff"/>
<g fill="#888"><rect x="837" y="94" width="6" height="0.6"/><rect x="837" y="96.5" width="7" height="0.6"/><rect x="837" y="99" width="5" height="0.6"/><rect x="837" y="101.5" width="6" height="0.6"/></g>
<rect x="822.7" y="107.5" width="24" height="1.2" fill="#5a8a5a" opacity="0.5"/>
<rect x="820" y="111" width="30.6" height="11.8" fill="#232323"/>
<g fill="#6a6a6a"><rect x="822" y="115" width="7" height="4"/><rect x="830.5" y="115" width="3" height="4"/><rect x="835" y="114.5" width="5" height="6" fill="#8a8a8a"/><rect x="842" y="115" width="3" height="4"/><rect x="846" y="115" width="3" height="4"/></g><rect x="844" y="120.5" width="1.5" height="1" fill="#3c3"/>
<!-- tower -->
<rect x="893.4" y="63.5" width="6" height="24" fill="#dedede"/>
<rect x="897.3" y="63.5" width="2.1" height="24" fill="#b0b0b0"/>
<rect x="891.7" y="50" width="8.4" height="4.4" fill="#e0402a"/>
<rect x="891.7" y="54.4" width="8.4" height="5.2" fill="#e8c020"/>
<rect x="891.7" y="59.6" width="8.4" height="4.4" fill="#3fa040"/>
</g>
<!-- exclamation -->
<defs><filter id="sh" x="-30%" y="-10%" width="160%" height="120%"><feGaussianBlur stdDeviation="1"/></filter></defs>
<g>
<path d="M980.6,130.3 L1010.4,130.3 L1005.8,192.2 L985,192.2 Z M983.6,192.6 L1006.4,192.6 L1006.4,214.8 L983.6,214.8 Z" fill="#9a9a9a" opacity="0.55" filter="url(#sh)"/>
<path d="M980.9,130.3 L1010.2,130.3 L1005.8,192.2 L985.1,192.2 Z" fill="#fff"/>
<path d="M982.7,132 L1008.4,132 L1004.3,190.6 L986.6,190.6 Z" fill="#2d62b8"/>
<path d="M984.7,134 L1006.3,134 L1002.4,188.6 L988.5,188.6 Z" fill="#5a7bcb"/>
<path d="M984.7,134 L1006.3,134 L1006.1,155.5 L987.5,172.5 Z" fill="#7590d5"/>
<rect x="983.7" y="192.6" width="22.6" height="22.2" fill="#fff"/>
<rect x="985.4" y="194.2" width="19.3" height="19" fill="#2d62b8"/>
<rect x="987.2" y="196" width="15.7" height="15.4" fill="url(#excl2)"/>
</g>
<!-- results person -->
<path d="M939.8,204.5 C938.5,190 945,179 956.5,178.8 C966,178.8 972,185 972.5,191 L974.5,195.3 C962,198 950,202 941.5,205.5 Z" fill="#fff" stroke="#fff" stroke-width="2.2"/>
<path d="M934.1,200.6 L938,199.2 L942,201.5 L942.5,207 L930.9,220.7 L922.5,233.4 L921.4,239.7 L928.8,235.5 L937.3,231.3 L945.7,230.2 L952,228.1 L952,220.7 L944.7,211.2 L941.5,205 C947,199 955,195 962,194.5 C967,194.2 971,194.5 973.6,196.2 L974.9,201.7 L976.3,217.5 L981.6,219.7 L996.4,226 L1005.9,233.4 L1009.1,244 L1010.7,270 L1011,285 L1009.9,290.2 L1007.5,307.3 L1005.2,314.3 L1003.7,315.9 L1001.3,323.7 L999.8,333.8 L995.1,333 L991.2,333.8 L989.3,335.3 L989.6,363.6 L936.4,363.6 L934.7,340 L932,319.4 L934.7,312 L933.3,290 L933.3,263 L928.8,258.7 L916.1,256.6 L903.5,254.5 L900.3,248.2 L903.5,237.6 L910.8,224.9 L918.2,214.4 L921.4,209.1 L924.6,203.8 Z" fill="#fff" stroke="#fff" stroke-width="2.2"/>
<path d="M939.8,204.5 C938.5,190 945,179 956.5,178.8 C966,178.8 972,185 972.5,191 L974.5,195.3 C962,198 950,202 941.5,205.5 Z" fill="#8a8a8a"/>
<path d="M941,204.2 C946.5,198 955,194 962,193.5 C967,193.2 971,193.6 974,195.4 L973.6,197 C971,195.4 967,195.2 962,195.5 C955,196 947,200 941.5,205.5 Z" fill="#6a6a6c"/>

<path d="M934.1,200.6 L938,199.2 L942,201.5 L942.5,207 L930.9,220.7 L922.5,233.4 L921.4,239.7 L928.8,235.5 L937.3,231.3 L945.7,230.2 L952,228.1 L952,220.7 L944.7,211.2 L941.5,205 C947,199 955,195 962,194.5 C967,194.2 971,194.5 973.6,196.2 L974.9,201.7 L976.3,217.5 L981.6,219.7 L996.4,226 L1005.9,233.4 L1009.1,244 L1010.7,270 L1011,285 L1009.9,290.2 L1007.5,307.3 L1005.2,314.3 L1003.7,315.9 L1001.3,323.7 L999.8,333.8 L995.1,333 L991.2,333.8 L989.3,335.3 L989.6,363.6 L936.4,363.6 L934.7,340 L932,319.4 L934.7,312 L933.3,290 L933.3,263 L928.8,258.7 L916.1,256.6 L903.5,254.5 L900.3,248.2 L903.5,237.6 L910.8,224.9 L918.2,214.4 L921.4,209.1 L924.6,203.8 Z" fill="#43505a"/>
<path d="M964.5,286.7 L992,297.5 L990.7,305 L990.8,312 L985.8,317.4 L980.3,321.3 L977.2,326.3 L958.7,321.8 Z" fill="#fff"/>
<line x1="993.2" y1="281" x2="993.2" y2="286.3" stroke="#fff" stroke-width="0.6"/>
<line x1="981.9" y1="327.6" x2="983.6" y2="326.2" stroke="#fff" stroke-width="0.6"/>


<!-- ===== OPERATION CHECK SCREENSHOT ===== -->
<g id="cnc2">
<rect x="156.4" y="284.6" width="178.3" height="100.8" fill="#fafafa" stroke="#8a8a8a" stroke-width="0.8"/>
<!-- left top white region -->
<rect x="157.9" y="287.3" width="42.7" height="3.8" fill="#c4c4c4"/>
<rect x="208.3" y="287.3" width="24.7" height="3.8" fill="#d4d4d4"/>
<g fill="#c4c4c4"><rect x="157.9" y="292.3" width="4.5" height="3.8"/><rect x="157.9" y="296.6" width="4.5" height="3.8"/><rect x="157.9" y="300.9" width="4.5" height="3.8"/></g>
<g font-family="Liberation Mono" font-weight="bold" font-size="4.4" fill="#1a1a1a" stroke="#1a1a1a" stroke-width="0.25">
<g transform="translate(158.3,0) scale(0.8,1)"><text x="0" y="290.8">Mach posn</text><text x="0" y="295.9">X1</text><text x="0" y="300.2">Y1</text><text x="0" y="304.5">Z1</text></g>
<g transform="translate(209,0) scale(0.8,1)"><text x="0" y="290.8">SelectSys</text><text x="0" y="295.9">1.3</text></g>
<g transform="translate(200.8,0) scale(0.8,1)" text-anchor="end"><text x="0" y="295.9">100.000</text><text x="0" y="300.2">100.000</text><text x="0" y="304.5">0.000</text></g>
</g>
<!-- 3D view -->
<rect x="157.9" y="309.6" width="84" height="61.7" fill="#393939"/>
<polygon points="172.3,334.3 200.6,350.4 200.6,368.4 172.3,351.6" fill="#7c7c7c"/>
<polygon points="200.6,350.4 228.2,332.4 228.2,354 200.6,368.4" fill="#686868"/>
<polygon points="199.4,313.2 228.2,332.4 200.6,350.4 172.3,334.3" fill="#8e8e8e"/>
<polygon points="199.6,318.5 220.5,332.5 200.4,345.5 180,334" fill="none" stroke="#c8c040" stroke-width="0.45"/>
<polygon points="199.8,325 210.8,332.6 200.2,339.6 189.5,333.5" fill="none" stroke="#c8c040" stroke-width="0.45"/>
<g fill="#e8e040"><ellipse cx="199.4" cy="320.4" rx="2.2" ry="1.4"/><ellipse cx="181.4" cy="334.3" rx="2.2" ry="1.4"/><ellipse cx="200.6" cy="347.3" rx="2.2" ry="1.4"/><ellipse cx="200.5" cy="333.6" rx="2.4" ry="1.5"/></g>
<ellipse cx="200.5" cy="333.8" rx="1.3" ry="0.8" fill="#333"/>
<rect x="216.9" y="320" width="4.8" height="14.8" fill="#b02828"/>
<ellipse cx="219.3" cy="320" rx="2.4" ry="1.2" fill="#e84040"/>
<line x1="189.1" y1="325.2" x2="189.1" y2="336.7" stroke="#3040c0" stroke-width="0.8"/>
<g stroke="#aaa" stroke-width="0.4"><line x1="160" y1="366" x2="166" y2="362"/><line x1="160" y1="366" x2="160" y2="359"/><line x1="160" y1="366" x2="164" y2="368"/></g>
<rect x="227" y="367" width="12" height="0.5" fill="#aaa"/>
<!-- MachTime -->
<rect x="157.9" y="372.7" width="22" height="4.1" fill="#c4c4c4"/>
<g font-family="Liberation Mono" font-weight="bold" font-size="4.4" fill="#1a1a1a" stroke="#1a1a1a" stroke-width="0.25">
<g transform="translate(158.3,0) scale(0.8,1)"><text x="0" y="376.4">MachTime</text></g>
<g transform="translate(187,0) scale(0.8,1)"><text x="0" y="376.4">0:00:00</text></g>
<g transform="translate(216,0) scale(0.8,1)"><text x="0" y="376.4">090 000 040 000</text></g>
<g transform="translate(159,0) scale(0.8,1)"><text x="0" y="383.8" font-size="3.6">3m</text></g>
<g transform="translate(178,0) scale(0.8,1)"><text x="0" y="383.8" font-size="3.6" fill="#334">20</text></g>
</g>
<!-- bottom bar -->
<rect x="157" y="379.4" width="177.3" height="5.6" fill="#111"/>
<rect x="157" y="379.4" width="15" height="5.6" fill="#f4f4f4"/>
<rect x="172" y="379.4" width="20" height="5.6" fill="#c8c8c8"/>
<rect x="174" y="380.3" width="1.3" height="3.8" fill="#222"/>
<!-- right panel -->
<rect x="244.8" y="285" width="89.6" height="94.4" fill="#d1d2dc"/>
<rect x="244.5" y="285" width="0.9" height="94.4" fill="#555"/>
<rect x="245.4" y="285" width="89" height="9.2" fill="#dcdce4"/>
<rect x="245.6" y="285.2" width="8.5" height="4" fill="#a8a8b0"/>
<g fill="#888"><rect x="245.4" y="289.2" width="89" height="0.5"/><rect x="245.4" y="294" width="89" height="0.6"/><rect x="254.5" y="285" width="0.5" height="9"/></g>
<rect x="248.4" y="300" width="84.6" height="4" fill="#3a78c8"/>
<g font-family="Liberation Mono" font-weight="bold" font-size="4.4" fill="#1a1a1a" stroke="#1a1a1a" stroke-width="0.25">
<g transform="translate(246,0) scale(0.8,1)"><text x="0" y="288.7">MEM</text></g>
<g transform="translate(256,0) scale(0.8,1)"><text x="0" y="288.7">0</text><text x="0" y="293.5">0</text></g>
<g transform="translate(301,0) scale(0.8,1)"><text x="0" y="288.7">510</text></g>
<g transform="translate(303,0) scale(0.8,1)"><text x="0" y="293.5">00</text></g>
<g transform="translate(318,0) scale(0.8,1)"><text x="0" y="288.7">00</text><text x="0" y="293.5">00</text></g>
<g transform="translate(331,0) scale(0.8,1)"><text x="0" y="288.7">7</text></g>
</g>
<g font-family="Liberation Mono" font-weight="bold" font-size="4.6" fill="#1a1a1a" stroke="#1a1a1a" stroke-width="0.3" transform="translate(249,0) scale(0.8,1)">
<text x="0" y="299.5">;</text>
<text x="0" y="303.8" fill="#fff" stroke="#fff">G00 X100. Y100. ;</text>
<text x="0" y="308.1">G01 Z-15. ;</text>
<text x="0" y="312.4">G00 Z5. ;</text>
<text x="0" y="316.7">;</text>
<text x="0" y="321.0">G00 X-100. Y100. ;</text>
<text x="0" y="325.3">G01 Z-15. ;</text>
<text x="0" y="329.6">G00 Z5. ;</text>
<text x="0" y="333.9">;</text>
<text x="0" y="338.2">G00 X100. Y-100. ;</text>
<text x="0" y="342.5">G01 Z-15. ;</text>
<text x="0" y="346.8">G00 Z5. ;</text>
<text x="0" y="351.1">;</text>
<text x="0" y="355.4">G00 X-100. Y-100. ;</text>
<text x="0" y="359.7">G01 Z-15. ;</text>
<text x="0" y="364.0">G00 Z5. ;</text>
<text x="0" y="368.3">;</text>
</g>
</g>
<!-- ===== OPERATION CHECK PERSON + LAPTOP ===== -->
<polygon points="164.2,383.3 217.5,389.2 210,430.2 158.3,423.3" fill="#7e7e80"/>
<polygon points="165.8,385 215.8,390.6 208.6,428.6 160,422" fill="#a9a9ad"/>
<line x1="217.3" y1="389.6" x2="209.8" y2="430" stroke="#5a5a5c" stroke-width="1.1"/>
<path d="M133,333.2 C125,333.2 119,337 116.5,341.5 C114.5,345 113.6,349 113.2,353 L112.6,359.3 L111.7,362.9 L106.3,362 L103.7,364.7 L100.1,370.9 L93.9,379.8 L89.4,388.7 L87.7,401.1 L87.5,420 L87.8,445.5 L177.4,445.5 L162.6,438 L150,437 L144.3,428.6 L145.4,421.2 L143.3,416.7 L141.7,410 L135.8,400 L130,388.3 L129.4,385.1 L133.9,384.2 L138.3,383.3 L142.8,379.8 L143.7,377.6 L146.9,376.2 L146.3,370 L150.8,363.8 L153.4,358.4 C154.5,355 154.6,350 153.8,347 C152.5,341.5 148.5,336.5 143.7,335 C140.5,333.8 136.5,333.2 133,333.2 Z" fill="#43505a"/>
<polygon points="144.7,429.4 158.3,423.3 210,430.2 191.8,444.6 177.4,445.4 162.6,438 149.3,436.8" fill="#737375"/>
<g stroke="#858587" stroke-width="0.5"><line x1="154" y1="426" x2="205" y2="433"/><line x1="150" y1="428.5" x2="201" y2="436"/><line x1="147" y1="431" x2="197" y2="439"/></g>
<path d="M162.6,437.6 L167.2,433.7 L171.1,431 L176.6,429.4 L183.6,428.4 L186.7,428.6 L185.9,430.6 L192.5,432.9 L192.9,433.7 L186.7,434.5 L190.6,437.6 L188.2,438.3 L183.6,439.5 L178.9,443.4 L177.4,445.5 L160,445.5 Z" fill="#43505a"/>

<!-- ILLUSTRATIONS PLACEHOLDER -->

</svg>
</body></html>
